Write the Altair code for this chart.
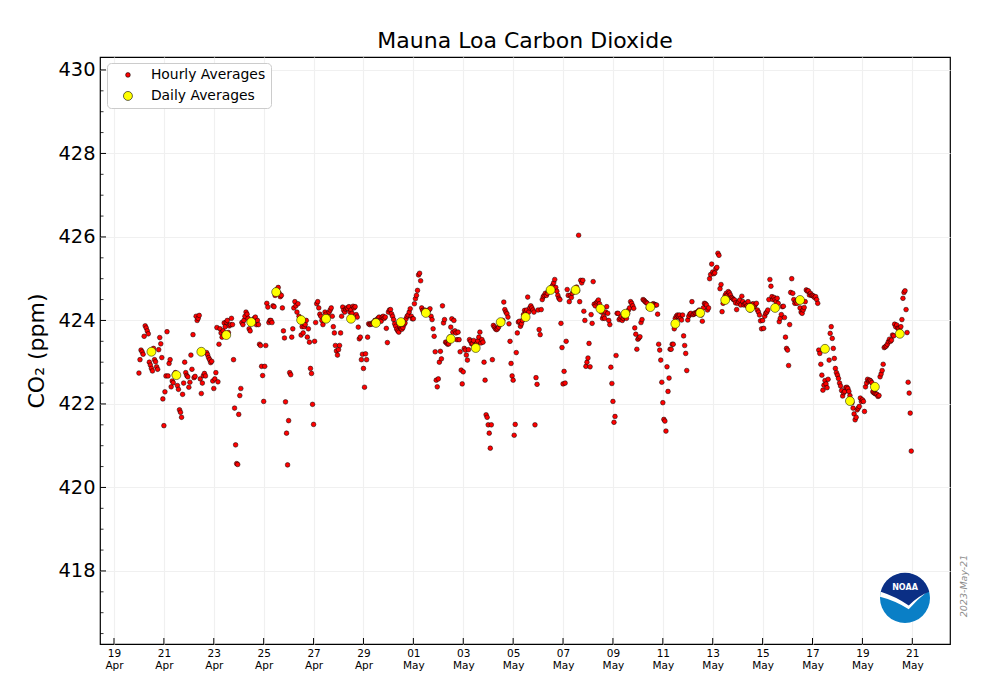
import altair as alt
import pandas as pd

# ---- hourly averages, one list of 24 values (00h..23h UTC) per day ----
apr20 = [422.74, 423.06, 423.29, 423.25, 423.19, 423.62, 423.87, 423.82, 423.75, 423.68, 423.00, 422.93,
         422.85, 422.79, 423.33, 423.06, 423.01, 422.89, 422.83, 423.30, 423.59, 423.44, 423.11, 422.12]
apr21 = [421.48, 422.29, 422.67, 423.73, 422.67, 422.97, 423.06, 422.41, 422.55, 422.51, 422.70, 422.75,
         422.68, 422.44, 422.35, 421.86, 421.80, 421.68, 422.23, 422.50, 423.00, 422.75, 422.68, 422.65]
apr22 = [422.40, 422.52, 423.17, 422.83, 423.66, 422.63, 422.66, 424.10, 424.00, 424.05, 424.12, 422.60,
         422.25, 422.50, 422.68, 422.73, 422.67, 423.23, 423.18, 423.11, 423.06, 422.99, 423.02, 422.55]
apr23 = [422.37, 422.60, 422.75, 423.83, 422.53, 423.43, 423.80, 423.70, 423.60, 423.75, 423.94, 423.85,
         423.96, 424.00, 423.71, 423.87, 423.90, 424.05, 423.90, 423.06, 421.90, 421.02, 420.57, 420.55]
apr24 = [421.75, 422.20, 422.37, 423.95, 423.90, 424.00, 424.10, 424.20, 424.15, 424.05, 423.80, 423.75,
         424.00, 424.00, 423.95, 424.05, 424.08, 423.90, 424.00, 423.90, 423.43, 423.40, 422.90, 422.68]
apr25 = [422.06, 422.90, 423.40, 424.41, 424.32, 423.95, 424.00, 424.00, 423.95, 424.35, 424.33, 424.60,
         424.70, 424.75, 424.79, 424.65, 424.57, 424.60, 424.30, 423.75, 423.58, 422.05, 421.30, 420.54]
apr26 = [421.60, 422.75, 422.70, 423.60, 423.80, 424.30, 424.45, 424.35, 424.20, 424.40, 424.10, 424.05,
         423.65, 423.85, 423.70, 423.85, 423.90, 424.00, 423.60, 423.80, 423.48, 422.85, 422.73, 421.99]
apr27 = [421.51, 423.50, 423.95, 424.40, 424.45, 424.30, 424.15, 424.10, 424.00, 423.90, 424.05, 424.20,
         424.15, 424.05, 424.10, 424.20, 424.25, 424.30, 424.10, 423.85, 423.70, 423.40, 423.27, 423.17]
apr28 = [423.30, 423.40, 423.70, 424.10, 424.32, 424.24, 424.20, 424.27, 424.30, 424.28, 424.33, 424.20,
         424.25, 424.17, 424.34, 424.30, 424.33, 424.14, 424.08, 423.84, 423.56, 423.60, 423.06, 423.19]
apr29 = [422.85, 422.40, 423.20, 423.06, 423.60, 423.92, 423.90, 423.92, 423.91, 423.94, 423.96, 424.00,
         424.00, 424.02, 424.05, 424.08, 424.00, 423.98, 424.08, 424.10, 424.05, 424.08, 423.81, 423.47]
apr30 = [424.20, 424.25, 424.26, 424.16, 424.10, 424.02, 423.92, 423.86, 423.79, 423.75, 423.72, 423.86,
         423.80, 423.79, 423.83, 423.90, 423.94, 424.04, 424.10, 424.13, 424.20, 424.28, 424.10, 424.04]
may01 = [424.04, 424.40, 424.52, 424.60, 424.72, 425.09, 425.13, 424.95, 424.30, 424.24, 424.20, 424.25,
         424.15, 424.20, 424.22, 424.25, 424.28, 424.10, 424.02, 423.80, 423.62, 423.25, 422.57, 422.41]
may02 = [422.60, 423.00, 423.26, 423.08, 424.35, 423.94, 424.02, 423.48, 423.46, 423.43, 423.44, 423.60,
         423.84, 424.04, 423.72, 424.00, 423.75, 423.70, 423.54, 423.72, 423.54, 423.25, 422.81, 422.48]
may03 = [422.77, 423.33, 423.29, 423.17, 423.05, 423.30, 423.54, 423.50, 423.44, 423.44, 423.52, 423.40,
         423.35, 423.45, 423.51, 423.60, 423.72, 423.46, 423.54, 423.48, 423.00, 422.57, 421.74, 421.68]
may04 = [421.50, 421.30, 420.94, 421.50, 423.06, 423.88, 423.84, 423.80, 423.78, 423.80, 423.84, 423.90,
         423.95, 423.94, 424.00, 424.44, 424.26, 424.20, 424.16, 424.08, 423.92, 423.50, 422.97, 422.67]
may05 = [422.57, 421.25, 421.51, 423.23, 423.70, 423.96, 423.98, 423.86, 423.92, 424.00, 424.14, 424.24,
         424.20, 424.25, 424.56, 424.20, 424.30, 424.35, 424.30, 424.25, 424.20, 421.50, 422.63, 422.47]
may06 = [424.25, 423.78, 423.66, 424.26, 424.50, 424.57, 424.60, 424.65, 424.60, 424.65, 424.71, 424.70,
         424.75, 424.80, 424.84, 424.90, 424.98, 424.79, 424.70, 424.60, 424.53, 424.50, 423.93, 423.35]
may07 = [422.48, 422.78, 422.50, 423.50, 424.74, 424.60, 424.45, 424.60, 424.55, 424.65, 424.70, 424.75,
         424.70, 424.80, 424.71, 426.04, 424.45, 424.96, 424.90, 424.96, 424.22, 424.00, 422.90, 423.00]
may08 = [423.10, 423.45, 422.89, 424.14, 423.93, 424.93, 424.39, 424.35, 424.42, 424.45, 424.49, 424.40,
         424.30, 424.20, 424.05, 424.10, 424.05, 424.20, 424.33, 424.17, 424.00, 423.90, 422.88, 422.49]
may09 = [422.06, 421.56, 421.70, 423.16, 424.17, 424.17, 424.02, 424.05, 424.09, 424.00, 424.05, 424.10,
         424.10, 424.05, 424.17, 424.25, 424.30, 424.45, 424.41, 424.35, 424.29, 423.82, 423.67, 423.31]
may10 = [423.55, 423.58, 423.61, 423.95, 424.02, 424.50, 424.48, 424.45, 424.43, 424.41, 424.30, 424.32,
         424.30, 424.35, 424.39, 424.40, 424.38, 424.37, 424.37, 424.15, 423.43, 423.29, 423.05, 422.52]
may11 = [422.03, 421.63, 421.59, 421.35, 422.89, 422.30, 422.62, 423.31, 423.31, 423.43, 423.43, 423.80,
         424.05, 424.10, 424.13, 424.10, 424.13, 424.05, 424.01, 424.13, 423.63, 423.40, 423.21, 422.80]
may12 = [424.01, 424.10, 424.15, 424.17, 424.45, 424.14, 424.15, 424.18, 424.17, 424.20, 424.22, 424.25,
         424.20, 424.13, 423.98, 424.30, 424.41, 424.40, 424.37, 424.25, 424.30, 425.00, 425.10, 425.35]
may13 = [425.16, 425.12, 425.14, 425.24, 425.27, 425.61, 425.56, 424.76, 424.86, 424.21, 424.41, 424.49,
         424.60, 424.65, 424.60, 424.69, 424.66, 424.61, 424.55, 424.53, 424.50, 424.49, 424.42, 424.26]
may14 = [424.41, 424.45, 424.49, 424.37, 424.58, 424.45, 424.37, 424.40, 424.41, 424.35, 424.45, 424.30,
         424.25, 424.35, 424.39, 424.40, 424.33, 424.38, 424.41, 424.25, 424.20, 424.13, 423.99, 423.80]
may15 = [424.00, 423.81, 424.10, 424.17, 424.20, 424.25, 424.50, 424.98, 424.82, 424.57, 424.50, 424.55,
         424.50, 424.45, 424.53, 424.41, 423.97, 424.05, 424.14, 424.33, 424.34, 424.07, 423.60, 423.33]
may16 = [423.29, 422.92, 423.90, 424.67, 425.00, 424.65, 424.50, 424.41, 424.45, 424.41, 424.49, 424.45,
         424.30, 424.20, 424.17, 424.25, 424.31, 424.45, 424.73, 424.70, 424.71, 424.61, 424.65, 424.60]
may17 = [424.60, 424.58, 424.55, 424.57, 424.50, 424.41, 423.29, 423.21, 422.95, 422.69, 422.33, 422.45,
         422.56, 422.48, 422.39, 422.59, 423.05, 423.69, 423.85, 423.57, 423.33, 423.09, 422.85, 422.75]
may18 = [422.69, 422.61, 422.50, 422.43, 422.32, 422.19, 422.27, 422.30, 422.39, 422.40, 422.37, 422.30,
         422.20, 422.10, 422.03, 421.90, 421.76, 421.62, 421.68, 421.86, 421.90, 421.94, 422.14, 422.06]
may19 = [422.10, 422.06, 421.82, 422.41, 422.50, 422.59, 422.55, 422.57, 422.55, 422.51, 422.29, 422.27,
         422.25, 422.24, 422.23, 422.18, 422.20, 422.65, 422.72, 422.80, 422.95, 423.35, 423.37, 423.39]
may20 = [423.43, 423.49, 423.55, 423.50, 423.53, 423.65, 423.63, 423.91, 423.85, 423.89, 423.81, 423.80,
         423.75, 423.85, 424.02, 424.53, 424.67, 424.71, 424.26, 423.71, 422.52, 422.26, 421.78, 420.87]

days = ["2023-04-20", "2023-04-21", "2023-04-22", "2023-04-23", "2023-04-24", "2023-04-25",
        "2023-04-26", "2023-04-27", "2023-04-28", "2023-04-29", "2023-04-30", "2023-05-01",
        "2023-05-02", "2023-05-03", "2023-05-04", "2023-05-05", "2023-05-06", "2023-05-07",
        "2023-05-08", "2023-05-09", "2023-05-10", "2023-05-11", "2023-05-12", "2023-05-13",
        "2023-05-14", "2023-05-15", "2023-05-16", "2023-05-17", "2023-05-18", "2023-05-19",
        "2023-05-20"]
hourly_by_day = [apr20, apr21, apr22, apr23, apr24, apr25, apr26, apr27, apr28, apr29, apr30,
                 may01, may02, may03, may04, may05, may06, may07, may08, may09, may10,
                 may11, may12, may13, may14, may15, may16, may17, may18, may19, may20]

# ---- daily averages (plotted at noon of each day) ----
daily_values = [423.25, 422.69, 423.25, 423.65, 423.96, 424.68, 424.01, 424.04, 424.04, 423.94,
                423.96, 424.18, 423.56, 423.34, 423.96, 424.08, 424.73, 424.73, 424.28, 424.16,
                424.32, 423.92, 424.18, 424.49, 424.30, 424.30, 424.49, 423.32, 422.07, 422.41,
                423.68]

# ---- axis ticks ----
x_tick_dates = ["2023-04-19", "2023-04-21", "2023-04-23", "2023-04-25", "2023-04-27", "2023-04-29",
                "2023-05-01", "2023-05-03", "2023-05-05", "2023-05-07", "2023-05-09", "2023-05-11",
                "2023-05-13", "2023-05-15", "2023-05-17", "2023-05-19", "2023-05-21"]
y_major = [418, 420, 422, 424, 426, 428, 430]
y_minor = [416.5, 417, 417.5, 418.5, 419, 419.5, 420.5, 421, 421.5, 422.5, 423, 423.5,
           424.5, 425, 425.5, 426.5, 427, 427.5, 428.5, 429, 429.5]

HOURLY = "Hourly Averages"
DAILY = "Daily Averages"

rows = []
for day, vals in zip(days, hourly_by_day):
    base = pd.Timestamp(day)
    for h, v in enumerate(vals):
        t = base + pd.Timedelta(hours=h)
        rows.append({"t": t.strftime("%Y-%m-%dT%H:%M:%SZ"), "co2": v, "series": HOURLY})
for day, v in zip(days, daily_values):
    rows.append({"t": day + "T12:00:00Z", "co2": v, "series": DAILY})
points_df = pd.DataFrame(rows)

W, H = 850, 587
FONT = "DejaVu Sans"
GRID = "#f0f0f0"


def dt(s, hours=0, minutes=0):
    y, m, d = (int(p) for p in s.split("-"))
    return alt.DateTime(year=y, month=m, date=d, hours=hours, minutes=minutes, utc=True)


x_scale = alt.Scale(type="utc", domain=[dt("2023-04-18", 10, 32), dt("2023-05-22", 12, 16)])
y_scale = alt.Scale(domain=[416.25, 430.31], nice=False, zero=False)

x_axis = alt.Axis(
    values=[dt(s) for s in x_tick_dates],
    labelExpr="[utcFormat(datum.value, '%d'), utcFormat(datum.value, '%b')]",
    title=None, ticks=False, domain=False, grid=True,
    gridColor=GRID, gridWidth=1.2,
    labelFontSize=10.5, labelLineHeight=12, labelPadding=4,
    labelFlush=False, labelOverlap=False, labelBound=False,
)
y_axis = alt.Axis(
    values=y_major, format="d", title="CO\u2082 (ppm)", titleFontSize=22,
    titleFontWeight="normal", titlePadding=9,
    ticks=False, domain=False, grid=True, gridColor=GRID, gridWidth=1.2,
    labelFontSize=19.4, labelPadding=5, labelFlush=False,
)

points = alt.Chart(points_df).mark_point(
    filled=True, opacity=1, stroke="black", strokeWidth=0.5
).encode(
    x=alt.X("t:T", scale=x_scale, axis=x_axis),
    y=alt.Y("co2:Q", scale=y_scale, axis=y_axis),
    color=alt.Color(
        "series:N",
        scale=alt.Scale(domain=[HOURLY, DAILY], range=["#ff0000", "#ffff00"]),
        legend=alt.Legend(
            title=None, orient="none", legendX=7, legendY=6,
            fillColor="white", strokeColor="#cccccc", cornerRadius=4, padding=5,
            labelFontSize=13.9, labelFont=FONT, labelColor="black",
            rowPadding=6, symbolOffset=9, labelOffset=16,
            symbolStrokeColor="black", symbolStrokeWidth=0.6,
        ),
    ),
    size=alt.Size(
        "series:N",
        scale=alt.Scale(domain=[HOURLY, DAILY], range=[22, 80]),
        legend=alt.Legend(title=None, orient="none", legendX=7, legendY=6),
    ),
)

# inward tick marks on the left and bottom edges (same axes as the points layer)
major_y = alt.Chart(pd.DataFrame({"co2": y_major})).mark_rule(color="black", strokeWidth=1).encode(
    y=alt.Y("co2:Q", scale=y_scale, axis=y_axis), x=alt.value(0), x2=alt.value(6)
)
minor_y = alt.Chart(pd.DataFrame({"co2": y_minor})).mark_rule(color="black", strokeWidth=0.8).encode(
    y=alt.Y("co2:Q", scale=y_scale, axis=y_axis), x=alt.value(0), x2=alt.value(3.5)
)
major_x = alt.Chart(pd.DataFrame({"t": [s + "T00:00:00Z" for s in x_tick_dates]})).mark_rule(
    color="black", strokeWidth=1
).encode(x=alt.X("t:T", scale=x_scale, axis=x_axis), y=alt.value(H), y2=alt.value(H - 6))

# NOAA emblem in the lower right corner
one = pd.DataFrame({"k": [0]})
LX, LY, LS = 805, 541, 2500
navy_path = ("M -0.97 -0.25 A 1 1 0 0 1 0.97 -0.25 Q 0.55 -0.1 0.15 0.3 "
             "Q -0.35 -0.05 -0.97 -0.25 Z")
white_path = ("M -1 -0.05 A 1 1 0 0 1 0.95 -0.31 Q 0.5 0.05 0.15 0.45 "
              "Q -0.4 0.1 -1 -0.05 Z")
logo_disc = alt.Chart(one).mark_point(
    shape="circle", filled=True, opacity=1, fill="#0a7fc6", strokeWidth=0
).encode(x=alt.value(LX), y=alt.value(LY), size=alt.value(LS))
logo_white = alt.Chart(one).mark_point(
    shape=white_path, filled=True, opacity=1, fill="white", strokeWidth=0
).encode(x=alt.value(LX), y=alt.value(LY), size=alt.value(LS))
logo_navy = alt.Chart(one).mark_point(
    shape=navy_path, filled=True, opacity=1, fill="#0b2f85", strokeWidth=0
).encode(x=alt.value(LX), y=alt.value(LY), size=alt.value(LS))
logo_text = alt.Chart(one).mark_text(
    text="NOAA", font=FONT, fontSize=8, fontWeight="bold", color="white", baseline="middle"
).encode(x=alt.value(LX), y=alt.value(LY - 10))

stamp = alt.Chart(one).mark_text(
    text="2023-May-21", font=FONT, fontSize=9.5, fontStyle="italic", color="#8c8c8c",
    angle=270, baseline="middle", align="center"
).encode(x=alt.value(W + 14), y=alt.value(529))

chart = alt.layer(
    points, major_y, minor_y, major_x, logo_disc, logo_white, logo_navy, logo_text, stamp
).properties(
    width=W, height=H,
    title=alt.Title("Mauna Loa Carbon Dioxide", fontSize=22, fontWeight="normal",
                    font=FONT, color="black", offset=4, anchor="middle"),
    autosize=alt.AutoSizeParams(type="none"),
    padding={"left": 100, "top": 57, "right": 50, "bottom": 56},
).configure_view(
    stroke="black", strokeWidth=1.2
).configure_axis(
    labelFont=FONT, titleFont=FONT, labelColor="black", titleColor="black"
)

chart.save("out.html", embed_options={"renderer": "svg", "actions": False})
